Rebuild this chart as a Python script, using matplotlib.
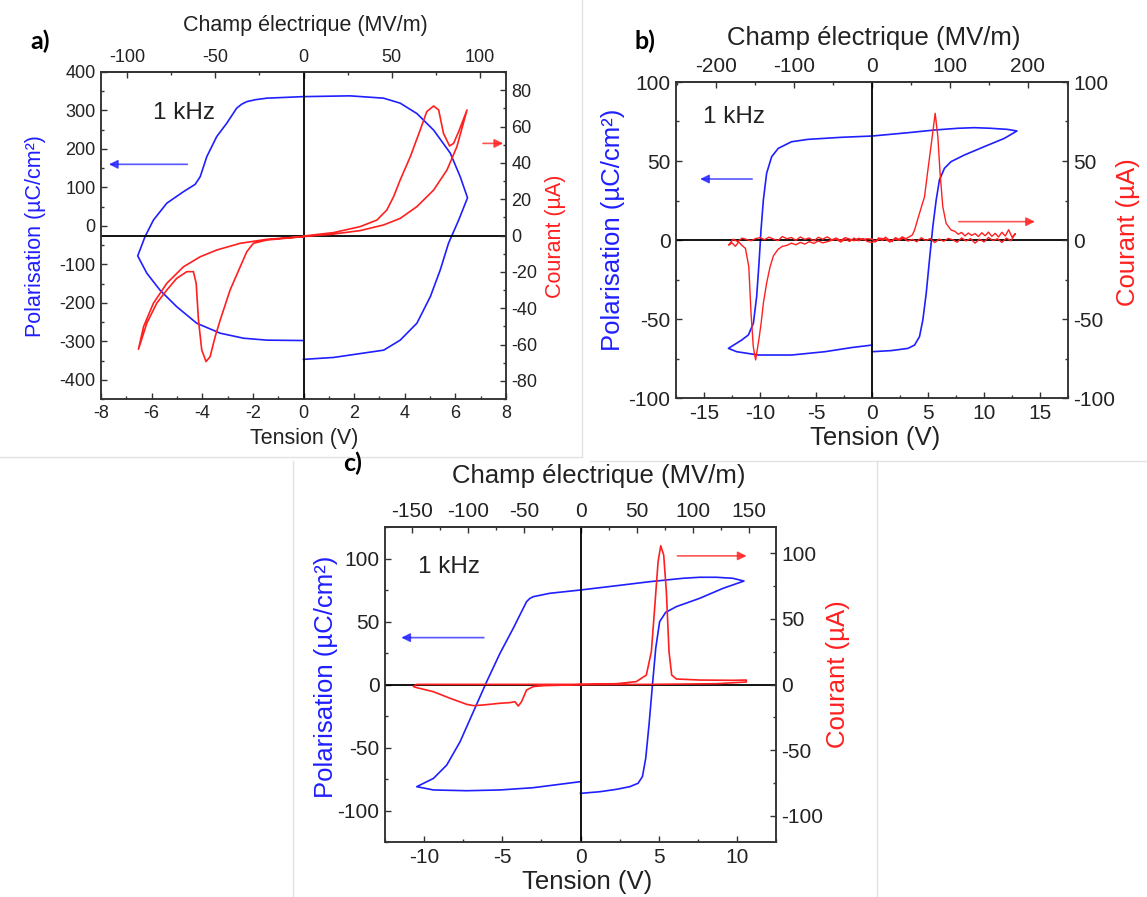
import matplotlib.pyplot as plt
from matplotlib.ticker import MultipleLocator
from matplotlib.lines import Line2D

plt.rcParams['font.family'] = ['Liberation Sans', 'DejaVu Sans']
plt.rcParams['axes.unicode_minus'] = False

W, H = 1147, 897
BLUE = '#1f1fff'
RED = '#ff1f1f'

# ---------------- panel a ----------------
a_pol_v = [0, 1.19, 3.17, 3.82, 4.48, 5.01, 5.40, 5.73, 6.13, 6.48, 6.19, 5.80, 5.14, 4.48, 3.82,
           3.16, 1.84, 0, -1.45, -1.9, -2.24, -2.45, -2.64, -3.03, -3.43, -3.82, -4.08, -4.28,
           -4.74, -5.40, -5.93, -6.26, -6.55, -6.19, -5.67, -5.01, -4.22, -3.29, -2.37, -1.45, -0.05]
a_pol_p = [-347, -342, -323, -297, -253, -184, -115, -45, 15, 73, 128, 189, 249, 292, 319,
           332, 338, 336, 332, 328, 323, 316, 306, 267, 232, 180, 128, 108,
           89, 59, 15, -28, -78, -123, -167, -210, -253, -279, -292, -297, -298]
a_cur_v = [0, 1.19, 2.24, 2.90, 3.29, 3.56, 3.82, 4.22, 4.61, 4.87, 5.14, 5.34, 5.53, 5.77, 5.93,
           6.13, 6.46, 6.06, 5.67, 5.14, 4.48, 3.82, 3.16, 2.24, 1.19, 0,
           -1.45, -1.98, -2.24, -2.50, -2.90, -3.29, -3.49, -3.69, -3.85, -4.02, -4.15, -4.24,
           -4.35, -4.61, -5.01, -5.40, -5.80, -6.19, -6.52, -6.32, -5.93, -5.40, -4.74, -4.08,
           -3.43, -2.50, -1.45, 0]
a_cur_i = [-0.3, 1.6, 4.9, 8.5, 14.0, 21.4, 30.6, 43.4, 58.1, 68.2, 71.3, 69.1, 56.2, 49.3, 50.7,
           57.2, 69.1, 48.9, 36.1, 25.0, 15.9, 9.4, 5.8, 2.7, 0.8, -0.6,
           -2.5, -4.3, -8.9, -17.2, -30.0, -46.5, -55.7, -66.7, -69.4, -63.0, -46.5, -26.3,
           -19.9, -19.9, -23.6, -30.0, -37.3, -48.3, -62.6, -50.2, -37.3, -26.3, -17.2, -11.7,
           -8.0, -4.3, -2.1, -0.6]
a_field_per_volt = 14.37

# ---------------- panel b ----------------
b_pol_v = [0, 1.72, 3.21, 3.80, 4.24, 4.54, 4.84, 5.13, 5.43, 5.73, 6.02, 6.47, 7.06, 8.25, 10.03,
           11.81, 12.94, 12.11, 10.62, 9.14, 7.66, 5.58, 3.20, 0, -2.73, -5.70, -7.18, -8.37,
           -8.96, -9.41, -9.70, -9.91, -10.09, -10.30, -10.59, -11.04, -11.63, -12.82, -12.08,
           -10.15, -7.18, -4.21, -1.84, 0]
b_pol_p = [-70.7, -70.0, -68.6, -66.5, -61.2, -50.6, -33.8, -12.7, 8.4, 25.3, 38.0, 45.4, 49.6,
           53.8, 59.1, 64.3, 69.0, 70.0, 70.7, 71.1, 70.7, 69.6, 67.9, 65.8, 65.0, 63.7, 62.2,
           58.0, 52.7, 42.2, 25.3, 6.3, -14.8, -35.9, -52.7, -60.1, -63.3, -68.6, -70.7, -72.8,
           -72.8, -70.7, -68.1, -66.5]
b_cur_v = [0, 0.3, 0.6, 0.9, 1.2, 1.5, 1.8, 2.1, 2.4, 2.7, 3.0, 3.3, 3.6,
           3.8, 4.24, 4.69, 4.99, 5.34, 5.64, 5.88, 6.08, 6.32, 6.62, 7.06, 7.4, 7.7, 8.0, 8.3,
           8.6, 8.9, 9.2, 9.5, 9.8, 10.1, 10.4, 10.7, 11.0, 11.3, 11.6, 11.9, 12.2, 12.5, 12.8,
           12.4, 12.0, 11.6, 11.2, 10.8, 10.4, 10.0, 9.6, 9.2, 8.8, 8.4, 8.0, 7.6, 7.2, 6.8,
           6.4, 6.0, 5.6, 5.2, 4.8, 4.4, 4.0, 3.6, 3.2, 2.8, 2.4, 2.0, 1.6, 1.2, 0.8, 0.4, 0.0,
           -0.4, -0.8, -1.2, -1.6, -2.0, -2.4, -2.8, -3.2, -3.6, -4.0, -4.4, -4.8, -5.2, -5.6,
           -6.0, -6.4, -6.8, -7.2, -7.6, -8.0, -8.4, -8.8, -9.1, -9.4, -9.7, -9.9, -10.1,
           -10.39, -10.6, -10.8, -11.0, -11.3, -11.6, -11.9, -12.2, -12.5, -12.8,
           -12.4, -12.0, -11.6, -11.2, -10.8, -10.4, -10.0, -9.6, -9.2, -8.8, -8.4, -8.0, -7.6,
           -7.2, -6.8, -6.4, -6.0, -5.6, -5.2, -4.8, -4.4, -4.0, -3.6, -3.2, -2.8, -2.4, -2.0,
           -1.6, -1.2, -0.8, -0.4, 0.0]
b_cur_i = [0.5, -1.2, 1.4, -0.3, 1.8, 0.2, -1.0, 1.5, 0.4, 2.0, 0.8, 1.9, 3.2,
           6.3, 16.9, 27.4, 44.3, 63.3, 80.2, 65.4, 42.2, 21.1, 10.5, 6.3, 5.5, 3.6, 4.8, 2.6,
           4.4, 2.9, 4.1, 2.2, 4.6, 2.7, 5.0, 2.3, 4.2, 1.9, 4.9, 2.5, 6.5, 1.8, 4.0,
           -0.5, 1.2, -1.5, 0.8, -0.4, 1.6, -1.2, 0.5, -2.0, 0.9, -0.6, 1.3, -1.4, 0.2, 1.0,
           -0.8, 0.6, -1.6, 0.9, -0.3, 1.4, -1.1, 0.4, -0.7, 1.2, -0.2, 0.8, -1.3, 0.5, 1.1, -0.6, -1.5,
           -1.0, 0.8, -0.5, 1.2, -0.9, 0.4, -1.3, 0.6, -0.2, -1.1, -1.8, -0.6, -2.2, -1.0,
           -2.6, -1.5, -3.0, -2.0, -3.4, -4.0, -6.0, -10.0, -16.9, -27.0, -40.0, -52.7, -63.0,
           -75.9, -67.5, -46.4, -16.9, -5.3, -3.5, -1.2, -4.0, -1.8, -3.2,
           0.5, -1.0, 1.2, 0.3, -0.5, 0.9, 1.5, 0.2, 1.8, 0.6, -0.4, 2.2, 0.8,
           1.6, -0.2, 1.9, 0.4, 1.3, -0.6, 1.7, 0.5, 2.0, 0.1, 1.2, -0.3, 1.5, 0.6,
           -0.5, 1.1, 0.3, 0.8, 0.5]
b_field_per_volt = 14.37

# ---------------- panel c ----------------
c_pol_v = [0, 1.23, 2.30, 3.15, 3.68, 3.96, 4.17, 4.38, 4.60, 4.81, 5.06, 5.45, 6.13, 7.62, 9.11,
           10.45, 9.74, 8.68, 7.62, 6.55, 4.43, 2.30, 0, -1.96, -3.02, -3.25, -3.45, -3.77, -4.30,
           -5.15, -6.0, -6.85, -7.70, -8.55, -9.40, -10.47, -9.40, -7.28, -5.15, -3.02, -1.32, 0]
c_pol_p = [-86.4, -85.1, -83.2, -81.1, -78.4, -73.1, -58.6, -32.1, -0.4, 28.7, 49.9, 57.3, 61.8,
           68.4, 76.3, 82.1, 84.3, 85.1, 85.1, 84.3, 81.6, 78.4, 75.0, 72.4, 69.7, 68.2, 65.7, 57.8,
           44.6, 24.7, 2.2, -21.6, -45.4, -63.9, -74.5, -81.1, -83.7, -84.3, -83.7, -81.9,
           -79.2, -77.1]
c_cur_v = [0, 2.30, 3.57, 4.21, 4.53, 4.74, 4.96, 5.13, 5.32, 5.49, 5.66, 5.83, 6.13, 7.62, 9.74,
           10.60, 10.60, 8.68, 4.43, 0, -2.38, -3.02, -3.45, -3.77, -3.98, -4.19, -4.51, -5.15,
           -6.21, -6.85, -7.28, -8.34, -9.40, -10.47, -10.68, -10.47, -6.21, 0]
c_cur_i = [0.1, 0.6, 2.2, 7.2, 25.0, 58.0, 93.5, 105.7, 98.6, 70.7, 25.0, 7.2, 4.2, 3.4, 3.2,
           3.4, 1.9, 0.6, 0.1, -0.1, -0.9, -1.6, -4.2, -13.1, -16.4, -13.1, -13.8, -14.3,
           -15.6, -16.1, -15.1, -10.5, -5.5, -2.4, -1.6, 0.1, 0.1, 0.1]
c_field_per_volt = 13.94

fig = plt.figure(figsize=(W / 100, H / 100), dpi=100)


def fig_pt(px, py):
    return px / W, 1 - py / H


def panel(box, xlim, ylim, rlim, steps, k, tick_fs, lab_fs, labels_at):
    left, top, right, bottom = box
    ax = fig.add_axes([left / W, 1 - bottom / H, (right - left) / W, (bottom - top) / H])
    ax2 = ax.twinx()
    ax.set_xlim(*xlim)
    ax.set_ylim(*ylim)
    ax2.set_ylim(*rlim)
    xs, ys, rs, ts = steps
    ax.xaxis.set_major_locator(MultipleLocator(xs))
    ax.xaxis.set_minor_locator(MultipleLocator(xs / 2))
    ax.yaxis.set_major_locator(MultipleLocator(ys))
    ax.yaxis.set_minor_locator(MultipleLocator(ys / 2))
    ax2.yaxis.set_major_locator(MultipleLocator(rs))
    ax2.yaxis.set_minor_locator(MultipleLocator(rs / 2))
    sec = ax.secondary_xaxis('top', functions=(lambda v: v * k, lambda e: e / k))
    sec.xaxis.set_major_locator(MultipleLocator(ts))
    sec.xaxis.set_minor_locator(MultipleLocator(ts / 2))
    for a in (ax, ax2, sec):
        a.tick_params(which='both', direction='in', labelsize=tick_fs, color='#333333',
                      labelcolor='#222222', width=1, pad=4)
        a.tick_params(which='major', length=4.5)
        a.tick_params(which='minor', length=2.5)
        for s in a.spines.values():
            s.set_color('#333333')
            s.set_linewidth(1.1)
    ax2.axhline(0, color='black', lw=1.3, zorder=1)
    ax2.axvline(0, color='black', lw=1.3, zorder=1)

    (tx, ty), (bx, by), (lx, ly), (rx, ry) = labels_at
    sec.set_xlabel('Champ électrique (MV/m)', fontsize=lab_fs, color='#222222')
    ax.set_xlabel('Tension (V)', fontsize=lab_fs, color='#222222')
    ax.set_ylabel('Polarisation (µC/cm²)', fontsize=lab_fs, color=BLUE)
    ax2.set_ylabel('Courant (µA)', fontsize=lab_fs, color=RED)
    for axis, (px, py) in ((sec.xaxis, (tx, ty)), (ax.xaxis, (bx, by)),
                           (ax.yaxis, (lx, ly)), (ax2.yaxis, (rx, ry))):
        axis.set_label_coords(*fig_pt(px, py), transform=fig.transFigure)
        axis.label.set_va('center')
        axis.label.set_ha('center')
    return ax, ax2


# panel a
ax, ax2 = panel((101, 72, 506, 399), (-8, 8), (-450, 400), (-90, 90), (2, 100, 20, 50),
                a_field_per_volt, 13, 15.5,
                ((305, 26), (304, 438), (36, 236), (556, 236)))
ax.plot(a_pol_v, a_pol_p, color=BLUE, lw=1.2)
ax2.plot(a_cur_v, a_cur_i, color=RED, lw=1.2)
ax.text(-4.74, 293, '1 kHz', fontsize=17.5, ha='center', va='center', color='#222222')
ax.annotate('', xy=(-7.8, 160), xytext=(-4.48, 160), annotation_clip=False,
            arrowprops=dict(arrowstyle='-|>', color=BLUE, alpha=0.75, lw=1.2, mutation_scale=13))
ax2.annotate('', xy=(8.0, 50.7), xytext=(6.98, 50.7), annotation_clip=False,
             arrowprops=dict(arrowstyle='-|>', color=RED, alpha=0.75, lw=1.2, mutation_scale=13))

# panel b
ax, ax2 = panel((676, 82, 1068, 398), (-17.5, 17.5), (-100, 100), (-100, 100), (5, 50, 50, 100),
                b_field_per_volt, 15, 18.5,
                ((874, 38), (875, 438), (613, 230), (1128, 232)))
ax.plot(b_pol_v, b_pol_p, color=BLUE, lw=1.2)
ax2.plot(b_cur_v, b_cur_i, color=RED, lw=1.0)
ax.text(-12.3, 78, '1 kHz', fontsize=17.5, ha='center', va='center', color='#222222')
ax.annotate('', xy=(-15.6, 38.6), xytext=(-10.45, 38.6), annotation_clip=False,
            arrowprops=dict(arrowstyle='-|>', color=BLUE, alpha=0.75, lw=1.2, mutation_scale=13))
ax2.annotate('', xy=(14.8, 11.6), xytext=(7.5, 11.6), annotation_clip=False,
             arrowprops=dict(arrowstyle='-|>', color=RED, alpha=0.75, lw=1.2, mutation_scale=13))

# panel c
ax, ax2 = panel((385, 527, 776, 842), (-12.5, 12.5), (-125, 125), (-120, 120), (5, 50, 50, 50),
                c_field_per_volt, 15, 18.5,
                ((599, 476), (587, 882), (326, 677), (838, 674)))
ax.plot(c_pol_v, c_pol_p, color=BLUE, lw=1.2)
ax2.plot(c_cur_v, c_cur_i, color=RED, lw=1.2)
ax.text(-8.4, 93.5, '1 kHz', fontsize=17.5, ha='center', va='center', color='#222222')
ax.annotate('', xy=(-11.64, 37.2), xytext=(-6.0, 37.2), annotation_clip=False,
            arrowprops=dict(arrowstyle='-|>', color=BLUE, alpha=0.75, lw=1.2, mutation_scale=13))
ax2.annotate('', xy=(10.8, 98), xytext=(6.02, 98), annotation_clip=False,
             arrowprops=dict(arrowstyle='-|>', color=RED, alpha=0.75, lw=1.2, mutation_scale=13))

# panel letters
for letter, (px, py) in (('a)', (40, 41)), ('b)', (645, 41)), ('c)', (353, 463))):
    fig.text(*fig_pt(px, py), letter, fontsize=18, fontweight='bold', family='Lato',
             ha='center', va='center')

# light frame lines of the assembled figure
for xs_, ys_ in (([582, 582], [0, 457]), ([0, 582], [457, 457]), ([590, W], [461, 461]),
                 ([293, 293], [461, H]), ([877, 877], [461, H])):
    fig.add_artist(Line2D([x / W for x in xs_], [1 - y / H for y in ys_],
                          transform=fig.transFigure, color='#e2e2e2', lw=1))

fig.savefig('out.png', dpi=100)
